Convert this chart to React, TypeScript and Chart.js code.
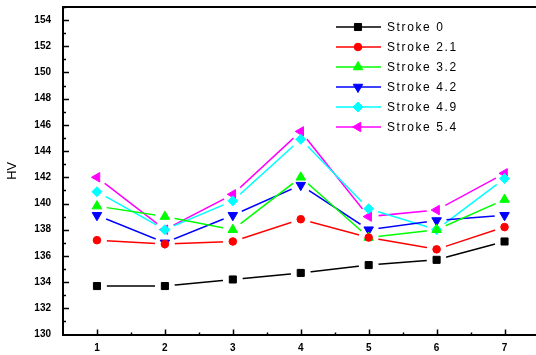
import React, { useEffect, useRef } from "react";
import { Chart, registerables } from "chart.js";
import { drawPoint } from "chart.js/helpers";

Chart.register(...registerables);

const categories = [1, 2, 3, 4, 5, 6, 7];
const yTickValues = [130, 132, 134, 136, 138, 140, 142, 144, 146, 148, 150, 152, 154];
const seriesNames = ["Stroke 0", "Stroke 2.1", "Stroke 3.2", "Stroke 4.2", "Stroke 4.9", "Stroke 5.4"];
const stroke0 = [133.7, 133.7, 134.2, 134.7, 135.3, 135.7, 137.1];
const stroke21 = [137.2, 136.9, 137.1, 138.8, 137.4, 136.5, 138.2];
const stroke32 = [139.8, 139.0, 138.0, 142.0, 137.4, 138.0, 140.3];
const stroke42 = [139.1, 137.0, 139.1, 141.4, 138.0, 138.7, 139.1];
const stroke49 = [140.9, 138.0, 140.2, 144.9, 139.6, 138.0, 141.9];
const stroke54 = [142.0, 138.0, 140.7, 145.5, 139.0, 139.5, 142.3];

const seriesValues = [stroke0, stroke21, stroke32, stroke42, stroke49, stroke54];
const colors = ["#000000", "#ff0000", "#00ff00", "#0000ff", "#00ffff", "#ff00ff"];
const pointStyles = ["rect", "circle", "triangle", "triangle", "rectRot", "triangle"];
const rotations = [0, 0, 0, 180, 0, 270];
const radii = [5, 3.8, 5.5, 5.5, 5, 5.5];
const FONT = "'Liberation Sans', Arial, sans-serif";

// Cut small gaps in each line around its markers (Origin style), then draw markers on top.
const gapPlugin = {
  id: "gaps",
  beforeDatasetDraw(chart: any, args: any) {
    const ctx = chart.ctx;
    const r = 10;
    ctx.save();
    const path = new Path2D();
    path.rect(0, 0, chart.width, chart.height);
    args.meta.data.forEach((pt: any) => {
      path.moveTo(pt.x + r, pt.y);
      path.arc(pt.x, pt.y, r, 0, Math.PI * 2);
    });
    ctx.clip(path, "evenodd");
  },
  afterDatasetDraw(chart: any, args: any) {
    const ctx = chart.ctx;
    ctx.restore();
    args.meta.data.forEach((pt: any) => pt.draw(ctx, chart.chartArea));
  },
};

const overlayPlugin = {
  id: "overlay",
  afterDraw(chart: any) {
    const ctx = chart.ctx;
    const area = chart.chartArea;
    const xs = chart.scales.x;
    const ys = chart.scales.y;
    ctx.save();
    ctx.strokeStyle = "#000";
    ctx.lineWidth = 2;
    ctx.beginPath();
    ctx.moveTo(area.left - 1, area.top);
    ctx.lineTo(area.right, area.top);
    ctx.stroke();
    ctx.lineWidth = 1.5;
    ctx.beginPath();
    for (let v = 131; v <= 155; v += 1) {
      const y = Math.round(ys.getPixelForValue(v)) + 0.5;
      const len = v % 2 === 0 ? 6 : 3;
      ctx.moveTo(area.left, y);
      ctx.lineTo(area.left + len, y);
    }
    for (let v = 1; v <= 7.01; v += 0.5) {
      const x = Math.round(xs.getPixelForValue(v)) + 0.5;
      const len = Number.isInteger(v) ? 5 : 2;
      ctx.moveTo(x, area.bottom);
      ctx.lineTo(x, area.bottom - len);
    }
    ctx.stroke();
    // legend
    const lx0 = 336, lx1 = 381, mx = 358, tx = 387;
    ctx.font = "12px " + FONT;
    (ctx as any).letterSpacing = "1.6px";
    ctx.textBaseline = "middle";
    ctx.textAlign = "left";
    seriesNames.forEach((name, i) => {
      const y = 27 + i * 20;
      ctx.strokeStyle = colors[i];
      ctx.fillStyle = colors[i];
      ctx.lineWidth = 1.5;
      ctx.beginPath();
      ctx.moveTo(lx0, y);
      ctx.lineTo(lx1, y);
      ctx.stroke();
      ctx.lineWidth = 1;
      drawPoint(ctx, {
        pointStyle: pointStyles[i],
        rotation: rotations[i],
        radius: radii[i],
        borderWidth: 1,
      } as any, mx, y);
      ctx.fillStyle = "#000";
      ctx.fillText(name, tx, y + 1);
    });
    ctx.restore();
  },
};

export default function App() {
  const ref = useRef<HTMLCanvasElement | null>(null);
  useEffect(() => {
    if (!ref.current) return;
    const datasets = seriesNames.map((name, i) => ({
      label: name,
      data: categories.map((c, j) => ({ x: c, y: seriesValues[i][j] })),
      borderColor: colors[i],
      backgroundColor: colors[i],
      borderWidth: 1.5,
      pointStyle: pointStyles[i] as any,
      rotation: rotations[i],
      pointRadius: radii[i],
      pointBorderWidth: 1,
      tension: 0,
      fill: false,
    }));
    const chart = new Chart(ref.current, {
      type: "line",
      data: { datasets },
      plugins: [gapPlugin, overlayPlugin],
      options: {
        animation: false,
        responsive: false,
        layout: { padding: { top: 7, right: 6, left: 0, bottom: 0 } },
        plugins: { legend: { display: false }, tooltip: { enabled: false } },
        scales: {
          x: {
            type: "linear",
            min: 0.5,
            max: 7.5,
            afterBuildTicks: (s: any) => {
              s.ticks = categories.map((v) => ({ value: v }));
            },
            afterFit: (s: any) => {
              s.height = 20.5;
              s.paddingLeft = 0;
              s.paddingRight = 0;
            },
            grid: { display: false, drawTicks: false },
            border: { display: true, color: "#000", width: 2 },
            ticks: {
              padding: 8,
              color: "#000",
              font: { family: FONT, size: 10, weight: "bold" },
              callback: (v: any) => String(v),
            },
          },
          y: {
            type: "linear",
            min: 130,
            max: 155,
            afterBuildTicks: (s: any) => {
              s.ticks = yTickValues.map((v) => ({ value: v }));
            },
            afterFit: (s: any) => {
              s.width = 63;
              s.paddingTop = 0;
              s.paddingBottom = 0;
            },
            grid: { display: false, drawTicks: false },
            border: { display: true, color: "#000", width: 2 },
            title: {
              display: true,
              text: "HV",
              color: "#000",
              padding: { top: 5, bottom: 0 },
              font: { family: FONT, size: 13 },
            },
            ticks: {
              padding: 12,
              color: "#000",
              font: { family: FONT, size: 10, weight: "bold" },
              callback: (v: any) => String(v),
            },
          },
        },
      },
    });
    return () => chart.destroy();
  }, []);
  return (
    <div style={{ position: "fixed", left: 0, top: 0, width: 545, height: 355, background: "#fff" }}>
      <canvas ref={ref} width={545} height={355} />
    </div>
  );
}
